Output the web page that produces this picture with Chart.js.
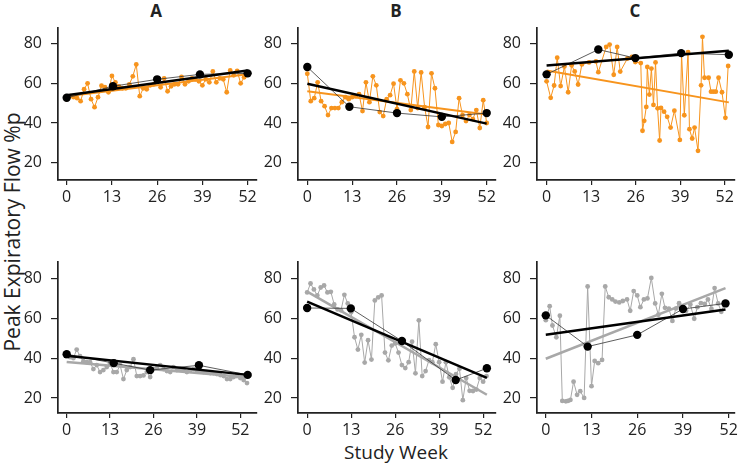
<!DOCTYPE html>
<html>
<head>
<meta charset="utf-8">
<script src="https://cdn.jsdelivr.net/npm/chart.js@4"></script>
<style>
  body { margin: 0; background: #fff; }
  #wrap { position: relative; width: 738px; height: 464px; overflow: hidden; font-family: "Open Sans", sans-serif; color: #222; }
  #wrap canvas { position: absolute; }
  .lbl { position: absolute; white-space: nowrap; }
  .ttl { font-weight: bold; font-size: 17px; transform: translate(-50%, -50%); }
</style>
</head>
<body>
<div id="wrap">
  <div class="lbl ttl" style="left:156px; top:10px;">A</div>
  <div class="lbl ttl" style="left:396px; top:10px;">B</div>
  <div class="lbl ttl" style="left:635px; top:10px;">C</div>
  <div class="lbl" style="left:396px; top:452px; font-size:19px; transform:translate(-50%,-50%);">Study Week</div>
  <div class="lbl" style="left:12px; top:232px; font-size:21px; transform:translate(-50%,-50%) rotate(-90deg);">Peak Expiratory Flow %p</div>
</div>
<script>
// tick values
const xTicks = [0, 13, 26, 39, 52];
const yTicks = [20, 40, 60, 80];

// top row (orange), weekly values
const pefA1 = [52, 53.5, 53, 52.5, 51, 57, 60, 52, 48, 53, 58.8, 58, 55.5, 63.7, 60.5, 58.5, 57.5, 57.5, 59.5, 63.5,
  69.5, 53.5, 57.5, 57, 59, 59.5, 61, 58, 62.5, 56, 58.5, 59.5, 59.5, 63.2, 59.5, 61, 62.5, 62, 61, 59,
  62, 60.5, 66, 60.5, 62.5, 62, 55.5, 66.5, 64, 66.3, 60, 63, 64.5];
const visitWeeksA1 = [0, 13.3, 26, 38.3, 52];
const visitA1 = [52.7, 58.5, 62, 64.5, 65];
const fitEndsA1 = [0, 52];
const fitVisitA1 = [54, 66.4];
const fitDailyA1 = [53.5, 64.5];

const pefB1 = [64.8, 51, 52.5, 60.5, 51, 48.5, 44, 47.5, 47.5, 47.5, 50.5, 53, 52, 53, 53.5, 54.5, 46, 60.5, 50.5, 63.5,
  59, 45.5, 43.5, 52, 54, 59.8, 47, 61.5, 60, 54.5, 46.5, 66, 47.5, 65.5, 48, 38, 65, 57.5, 39, 38.5,
  39.5, 40, 30.5, 35.5, 52.5, 44, 41, 44, 42, 46.5, 37.5, 51.5, 40];
const visitWeeksB1 = [0, 12.2, 26, 39, 52];
const visitB1 = [68.2, 48.2, 45, 43.1, 45];
const fitEndsB1 = [0, 52];
const fitVisitB1 = [59.8, 39.7];
const fitDailyB1 = [56, 44.3];

const weeksC1 = [0, 1.2, 2.2, 3.1, 4.1, 5.2, 6.3, 7.3, 8.2, 9.2, 10.3, 12.4, 14.4, 15.1, 17.4, 18.4, 19.6, 20.6, 21.5, 23.6,
  24.9, 25.9, 27.5, 28, 28.5, 29.1, 29.4, 30, 30.6, 31.2, 31.8, 32.4, 33, 33.4, 34.3, 35.2, 36.2, 37.3, 38.9, 39.4,
  40.2, 41.3, 41.7, 42.5, 43.2, 44.2, 45.1, 45.5, 46.1, 47.3, 48, 48.7, 49.4, 50.2, 51.2, 52.2, 53];
const pefC1 = [61, 52.7, 58.9, 72.9, 58.6, 68.4, 55.5, 69.1, 66, 59.4, 69.5, 70.5, 71, 65.6, 78.3, 79.5, 64.3, 78.3, 65.9, 72.5,
  73.3, 70.7, 70.2, 36.1, 41.1, 48.1, 68.2, 54.3, 67.4, 49.1, 70.5, 47.4, 31.2, 47.6, 45.7, 43.1, 37.7, 46.2, 31.5, 75,
  43.9, 75.7, 36.9, 32.2, 37.7, 26, 59, 83.4, 62.8, 62.8, 55.8, 55.8, 55.8, 62.8, 55.5, 42.6, 68.7];
const visitWeeksC1 = [0, 15.1, 25.9, 39.3, 53.2];
const visitC1 = [64.5, 77, 72.7, 75.2, 74.4];
const fitEndsC1 = [0, 53.2];
const fitVisitC1 = [69, 76.4];
const fitDailyC1 = [66.4, 50.4];

// bottom row (grey)
const pefA2 = [41, 40.5, 40, 44.3, 41, 38.5, 38, 38, 34.5, 36.5, 33, 34, 35.5, 37.5, 33, 33, 36.5, 29.5, 34, 35.5,
  39.5, 31, 31, 31.3, 33, 30.5, 34.5, 35, 36.5, 34.5, 33.5, 33, 35.5, 34, 34.5, 34, 33, 34, 34.5, 33.5,
  33.5, 33, 33, 32.5, 32.5, 32, 31.5, 31, 29.5, 29.5, 30.5, 31, 30, 29, 27.5];
const visitWeeksA2 = [0, 14.1, 25, 39.6, 54.2];
const visitA2 = [42, 37.5, 34, 36.4, 31.6];
const fitEndsA2 = [0, 54.2];
const fitVisitA2 = [41.2, 31.6];
const fitDailyA2 = [38.1, 30.4];

const pefB2 = [73, 77.5, 74.5, 71.5, 75.5, 76.5, 73, 73.3, 67, 64.5, 64, 71.8, 67.5, 63, 50.5, 44.3, 51.7, 37.8, 49, 39.3,
  69, 70.5, 71.5, 42.8, 38.9, 46.3, 47.4, 42.8, 36.5, 35, 38, 48.3, 32.4, 59, 31, 33.5, 39, 38, 47, 38,
  28.2, 38, 30.4, 25.1, 32, 34.7, 18.9, 30, 23.6, 23.5, 24.2, 30, 28.2, 31];
const visitWeeksB2 = [0, 12.9, 28, 43.9, 53.1];
const visitB2 = [65.2, 65, 48.6, 29, 34.9];
const fitEndsB2 = [0, 53.1];
const fitVisitB2 = [68.4, 30.1];
const fitDailyB2 = [73.4, 21.6];

const weeksC2 = [0, 1.1, 1.9, 3, 4, 4.7, 5.7, 6.3, 7, 7.9, 8.9, 9.8, 10.9, 11.9, 13, 13.9, 14.9, 16, 16.9, 17.9,
  18.9, 19.8, 20.9, 21.9, 23.1, 24, 25, 26, 26.9, 27.9, 28.9, 30, 31.1, 32, 33, 33.9, 35, 36, 37, 37.9,
  38.8, 39.9, 41.1, 42.2, 43.1, 44.1, 45.2, 46.1, 47.1, 48, 49, 49.9, 50.8];
const pefC2 = [59.1, 66.1, 56.4, 50.5, 61.3, 18.5, 18.3, 18.5, 19, 28.2, 21.6, 23.4, 20, 76, 25.9, 38.6, 37.5, 39.1, 76, 70.6,
  69.5, 68.4, 68, 68.7, 69.5, 63.8, 73.7, 71.5, 65.6, 69.5, 70, 80.3, 67.5, 61.8, 72.3, 65.3, 64.9, 58.7, 64.9, 67.6,
  65.9, 63.8, 66.9, 59.8, 65.6, 67.6, 67.2, 69.5, 64.7, 75.2, 67.5, 63.3, 67.2];
const visitWeeksC2 = [0, 11.9, 26, 39, 51.1];
const visitC2 = [61.5, 45.8, 51.7, 64.7, 67.5];
const fitEndsC2 = [0, 51.1];
const fitVisitC2 = [51.7, 64.4];
const fitDailyC2 = [39.7, 75.2];

const ORANGE = '#F7941D';
const GREY = '#A8A8A8';
const FONT = { family: '"Open Sans", sans-serif', size: 16 };

const AX_W = 50, AX_H = 40, PAD_T = 6, PAD_R = 6;

function pts(xs, ys) {
  return ys.map((v, i) => ({ x: xs[i], y: v }));
}
function byWeek(ys) {
  return ys.map((v, i) => ({ x: i, y: v }));
}

const panels = [
  { left: 58, right: 257, top: 15, bottom: 180, xmin: -2.5, xmax: 54.7, ymin: 11.3, ymax: 88.05, color: ORANGE,
    daily: byWeek(pefA1), visits: pts(visitWeeksA1, visitA1), fx: fitEndsA1, fv: fitVisitA1, fd: fitDailyA1, fdw: 2 },
  { left: 298, right: 496, top: 15, bottom: 180, xmin: -2.7, xmax: 54.7, ymin: 11.3, ymax: 88.05, color: ORANGE,
    daily: byWeek(pefB1), visits: pts(visitWeeksB1, visitB1), fx: fitEndsB1, fv: fitVisitB1, fd: fitDailyB1, fdw: 2 },
  { left: 537, right: 735, top: 15, bottom: 180, xmin: -2.8, xmax: 55, ymin: 11.3, ymax: 88.05, color: ORANGE,
    daily: pts(weeksC1, pefC1), visits: pts(visitWeeksC1, visitC1), fx: fitEndsC1, fv: fitVisitC1, fd: fitDailyC1, fdw: 2 },
  { left: 58, right: 257, top: 249, bottom: 413, xmin: -2.6, xmax: 57, ymin: 12.45, ymax: 88.5, color: GREY,
    daily: byWeek(pefA2), visits: pts(visitWeeksA2, visitA2), fx: fitEndsA2, fv: fitVisitA2, fd: fitDailyA2, fdw: 2.5 },
  { left: 298, right: 496, top: 249, bottom: 413, xmin: -2.7, xmax: 55.8, ymin: 12.45, ymax: 88.5, color: GREY,
    daily: byWeek(pefB2), visits: pts(visitWeeksB2, visitB2), fx: fitEndsB2, fv: fitVisitB2, fd: fitDailyB2, fdw: 2.5 },
  { left: 537, right: 735, top: 249, bottom: 413, xmin: -2.5, xmax: 53.7, ymin: 12.45, ymax: 88.5, color: GREY,
    daily: pts(weeksC2, pefC2), visits: pts(visitWeeksC2, visitC2), fx: fitEndsC2, fv: fitVisitC2, fd: fitDailyC2, fdw: 2.5 }
];

const wrap = document.getElementById('wrap');

panels.forEach(p => {
  const cv = document.createElement('canvas');
  const W = (p.right - p.left) + AX_W + PAD_R;
  const H = (p.bottom - p.top) + PAD_T + AX_H;
  cv.width = W;
  cv.height = H;
  cv.style.left = (p.left - AX_W) + 'px';
  cv.style.top = (p.top - PAD_T) + 'px';
  wrap.appendChild(cv);

  new Chart(cv, {
    type: 'scatter',
    data: {
      datasets: [
        { // fit of clinic visits
          data: pts(p.fx, p.fv), showLine: true, borderColor: '#000', borderWidth: 2.5, pointRadius: 0
        },
        { // clinic visits
          data: p.visits, showLine: true, borderColor: '#333', borderWidth: 0.8,
          pointRadius: 4.2, pointBackgroundColor: '#000', pointBorderWidth: 0
        },
        { // fit of home readings
          data: pts(p.fx, p.fd), showLine: true, borderColor: p.color, borderWidth: p.fdw, pointRadius: 0
        },
        { // home readings
          data: p.daily, showLine: true, borderColor: p.color, borderWidth: 1,
          pointRadius: 2.4, pointBackgroundColor: p.color, pointBorderWidth: 0
        }
      ]
    },
    options: {
      responsive: false,
      animation: false,
      layout: { padding: { top: PAD_T, right: PAD_R, left: 0, bottom: 0 } },
      plugins: { legend: { display: false }, tooltip: { enabled: false } },
      scales: {
        x: {
          type: 'linear', min: p.xmin, max: p.xmax,
          afterBuildTicks: s => { s.ticks = xTicks.map(v => ({ value: v })); },
          afterFit: s => { s.height = AX_H; },
          grid: { drawOnChartArea: false, tickLength: 5, color: '#222', lineWidth: 1.2 },
          border: { color: '#222', width: 1.7 },
          ticks: { font: FONT, color: '#222', padding: 3, maxRotation: 0, autoSkip: false }
        },
        y: {
          min: p.ymin, max: p.ymax,
          afterBuildTicks: s => { s.ticks = yTicks.map(v => ({ value: v })); },
          afterFit: s => { s.width = AX_W; },
          grid: { drawOnChartArea: false, tickLength: 7, color: '#222', lineWidth: 1.2 },
          border: { color: '#222', width: 1.7 },
          ticks: { font: FONT, color: '#222', padding: 9 }
        }
      }
    }
  });
});
</script>
</body>
</html>
